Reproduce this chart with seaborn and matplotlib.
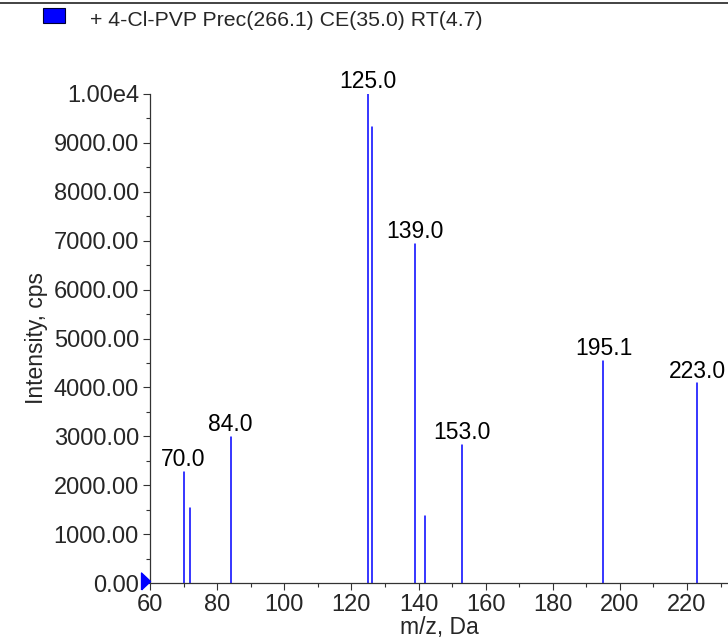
#!/usr/bin/env python3

import pandas as pd
import matplotlib.pyplot as plt
import seaborn as sns
import numpy as np
from matplotlib.lines import Line2D
from matplotlib.patches import Rectangle
from matplotlib.ticker import FuncFormatter, MultipleLocator, FixedLocator

# peaks
mz = [70.0, 72.0, 84.0, 125.0, 126.0, 139.0, 142.0, 153.0, 195.1, 223.0]
intensity = [2275, 1540, 2990, 10000, 9320, 6930, 1375, 2830, 4550, 4080]
labelled = [True, False, True, True, False, True, False, True, True, True]

title_text = "+ 4-Cl-PVP Prec(266.1) CE(35.0) RT(4.7)"
x_ticks = [60, 80, 100, 120, 140, 160, 180, 200, 220]
x_minor = [70, 90, 110, 130, 150, 170, 190, 210, 230]
y_ticks = [0, 1000, 2000, 3000, 4000, 5000, 6000, 7000, 8000, 9000, 10000]


def stem_frame(mz, intensity):
    """Long form table: each peak is a line from 0 to its height."""
    rows = []
    for i, (m, h) in enumerate(zip(mz, intensity)):
        rows.append({"peak": i, "mz": m, "intensity": 0})
        rows.append({"peak": i, "mz": m, "intensity": h})
    return pd.DataFrame(rows)


def y_fmt(v, pos):
    if v >= 10000:
        return "1.00e4"
    return f"{v:.2f}"


sns.set_style("ticks")
plt.rcParams["font.family"] = ["Liberation Sans", "DejaVu Sans"]
FS = 16.5

fig = plt.figure(figsize=(7.28, 6.41), dpi=100)
ax = fig.add_axes([150 / 728, 58 / 641, 1 - 150 / 728, (583 - 94) / 641])

df = stem_frame(mz, intensity)
sns.lineplot(data=df, x="mz", y="intensity", units="peak", estimator=None,
             color="#0000ff", lw=1.1, ax=ax, sort=False)

for m, h, lab in zip(mz, intensity, labelled):
    if lab:
        ax.annotate(f"{m:.1f}", (m, h), xytext=(0, 0.5), textcoords="offset points",
                    ha="center", va="bottom", fontsize=FS, color="black",
                    annotation_clip=False)

ax.set_xlim(60, 232.2)
ax.set_ylim(0, 10000)
ax.xaxis.set_major_locator(FixedLocator(x_ticks))
ax.xaxis.set_minor_locator(FixedLocator(x_minor))
ax.yaxis.set_major_locator(FixedLocator(y_ticks))
ax.yaxis.set_minor_locator(MultipleLocator(500))
ax.yaxis.set_major_formatter(FuncFormatter(y_fmt))

ax.tick_params(which="major", length=5, width=0.8, labelsize=17, color="#333333", pad=3)
ax.tick_params(which="minor", length=3, width=0.8, color="#333333")
for s in ["top", "right"]:
    ax.spines[s].set_visible(False)
for s in ["left", "bottom"]:
    ax.spines[s].set_color("#333333")
    ax.spines[s].set_linewidth(0.9)

ax.set_xlabel("m/z, Da", fontsize=FS, labelpad=0)
ax.set_ylabel("Intensity, cps", fontsize=FS, labelpad=4)

# little triangle at the base of the y axis, tip on the spine
tri = [(-9, -8.5), (0, 0), (-9, 8.5), (-9, -8.5)]
ax.plot([60], [40], marker=tri, color="#0000ff", markersize=12.9, clip_on=False,
        zorder=5, lw=0)

# frame line and legend header
fig.add_artist(Line2D([0, 1], [1 - 3 / 641, 1 - 3 / 641], color="#222222", lw=1.2))
fig.add_artist(Rectangle((43 / 728, 1 - 23 / 641), 22 / 728, 15 / 641,
                         facecolor="#0000ff", edgecolor="#000033", lw=0.8))
fig.text(90 / 728, 1 - 20 / 641, title_text, fontsize=15.3, va="center", ha="left")

fig.savefig("out.png", dpi=100)
plt.close(fig)
